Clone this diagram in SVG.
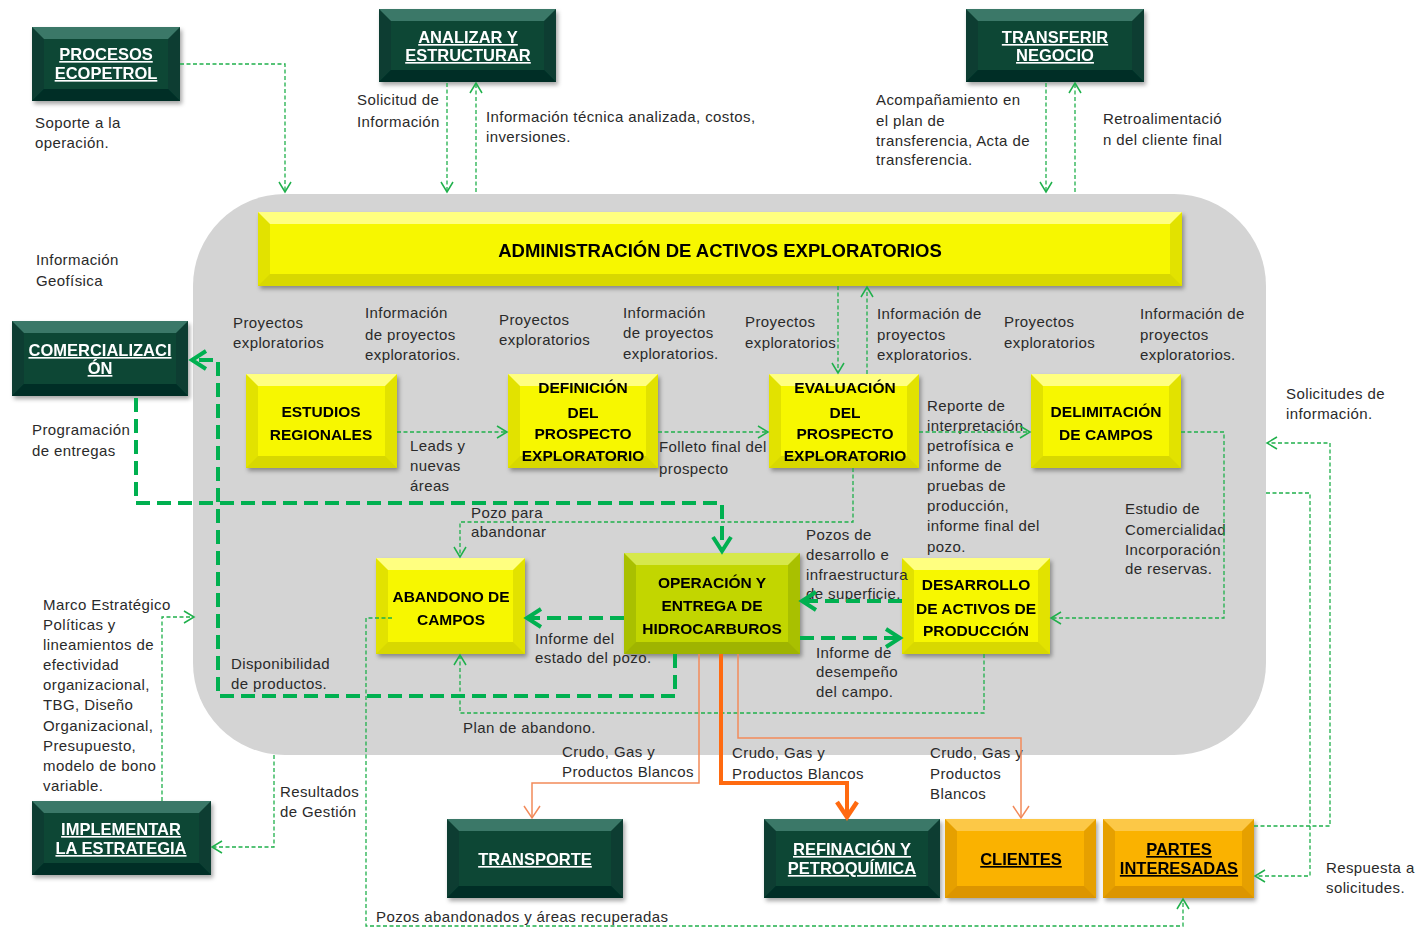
<svg xmlns="http://www.w3.org/2000/svg" width="1418" height="928" viewBox="0 0 1418 928">
<defs>
<style>
.lbl{font-family:"Liberation Sans",Arial,sans-serif;font-size:15px;fill:#2a2a2a;letter-spacing:0.4px}
.wt{font-family:"Liberation Sans",Arial,sans-serif;font-size:16.5px;font-weight:bold;fill:#ffffff;text-anchor:middle;text-decoration:underline}
.bt{font-family:"Liberation Sans",Arial,sans-serif;font-size:15.5px;font-weight:bold;fill:#000000;text-anchor:middle}
.ot{font-family:"Liberation Sans",Arial,sans-serif;font-size:16.5px;font-weight:bold;fill:#000000;text-anchor:middle;text-decoration:underline}
.dg-side{fill:#083d30}.dg-top{fill:#3b7868}.dg-bot{fill:#052f25}.dg-mid{fill:#0b4636}
.y-side{fill:#e2e200}.y-top{fill:#ffff80}.y-bot{fill:#d8d800}.y-mid{fill:#f7f700}
.g-side{fill:#a9c000}.g-top{fill:#d6e84c}.g-bot{fill:#9fb400}.g-mid{fill:#c2d600}
.o-side{fill:#e6a000}.o-top{fill:#fcc846}.o-bot{fill:#dc9500}.o-mid{fill:#fab200}
.tg{fill:none;stroke:#1fb04b;stroke-width:1.3;stroke-dasharray:4 2.5}
.kg{fill:none;stroke:#00b050;stroke-width:4;stroke-dasharray:14 7}
.to{fill:none;stroke:#f28a5a;stroke-width:1.5}
.ko{fill:none;stroke:#ff6a10;stroke-width:4}
</style>
<filter id="sh" x="-10%" y="-10%" width="125%" height="130%">
<feDropShadow dx="2" dy="3" stdDeviation="2" flood-color="#000" flood-opacity="0.35"/>
</filter>
<marker id="atg" markerUnits="userSpaceOnUse" markerWidth="16" markerHeight="16" viewBox="0 0 16 16" refX="13" refY="8" orient="auto">
<path d="M3,2 L13,8 L3,14" fill="none" stroke="#1fb04b" stroke-width="1.5"/>
</marker>
<marker id="akg" markerUnits="userSpaceOnUse" markerWidth="24" markerHeight="24" viewBox="0 0 24 24" refX="20" refY="12" orient="auto">
<path d="M6,3 L20,12 L6,21" fill="none" stroke="#00b050" stroke-width="4"/>
</marker>
<marker id="ato" markerUnits="userSpaceOnUse" markerWidth="20" markerHeight="20" viewBox="0 0 20 20" refX="17" refY="10" orient="auto">
<path d="M5,2 L17,10 L5,18" fill="none" stroke="#f28a5a" stroke-width="1.5"/>
</marker>
<marker id="ako" markerUnits="userSpaceOnUse" markerWidth="26" markerHeight="26" viewBox="0 0 26 26" refX="22" refY="13" orient="auto">
<path d="M7,3 L22,13 L7,23" fill="none" stroke="#ff6a10" stroke-width="4.5"/>
</marker>
</defs>

<rect x="193" y="194" width="1073" height="561" rx="92" ry="92" fill="#d4d4d4"/>

<g id="procesos" filter="url(#sh)">
<rect class="dg-side" x="32" y="27" width="148" height="74"/>
<polygon class="dg-top" points="32,27 180,27 168,39 44,39"/>
<polygon class="dg-bot" points="32,101 180,101 168,89 44,89"/>
<rect class="dg-mid" x="44" y="39" width="124" height="50"/>
<text class="wt" x="106" y="60">PROCESOS</text>
<text class="wt" x="106" y="79">ECOPETROL</text>
</g>
<g id="analizar" filter="url(#sh)">
<rect class="dg-side" x="379" y="9" width="177" height="73"/>
<polygon class="dg-top" points="379,9 556,9 544,21 391,21"/>
<polygon class="dg-bot" points="379,82 556,82 544,70 391,70"/>
<rect class="dg-mid" x="391" y="21" width="153" height="49"/>
<text class="wt" x="468" y="43">ANALIZAR Y</text>
<text class="wt" x="468" y="61">ESTRUCTURAR</text>
</g>
<g id="transferir" filter="url(#sh)">
<rect class="dg-side" x="966" y="9" width="178" height="73"/>
<polygon class="dg-top" points="966,9 1144,9 1132,21 978,21"/>
<polygon class="dg-bot" points="966,82 1144,82 1132,70 978,70"/>
<rect class="dg-mid" x="978" y="21" width="154" height="49"/>
<text class="wt" x="1055" y="43">TRANSFERIR</text>
<text class="wt" x="1055" y="61">NEGOCIO</text>
</g>
<g id="comercializacion" filter="url(#sh)">
<rect class="dg-side" x="12" y="321" width="176" height="75"/>
<polygon class="dg-top" points="12,321 188,321 176,333 24,333"/>
<polygon class="dg-bot" points="12,396 188,396 176,384 24,384"/>
<rect class="dg-mid" x="24" y="333" width="152" height="51"/>
<text class="wt" x="100" y="356">COMERCIALIZACI</text>
<text class="wt" x="100" y="374">ÓN</text>
</g>
<g id="implementar" filter="url(#sh)">
<rect class="dg-side" x="32" y="801" width="179" height="74"/>
<polygon class="dg-top" points="32,801 211,801 199,813 44,813"/>
<polygon class="dg-bot" points="32,875 211,875 199,863 44,863"/>
<rect class="dg-mid" x="44" y="813" width="155" height="50"/>
<text class="wt" x="121" y="835">IMPLEMENTAR</text>
<text class="wt" x="121" y="854">LA ESTRATEGIA</text>
</g>
<g id="transporte" filter="url(#sh)">
<rect class="dg-side" x="447" y="819" width="176" height="79"/>
<polygon class="dg-top" points="447,819 623,819 611,831 459,831"/>
<polygon class="dg-bot" points="447,898 623,898 611,886 459,886"/>
<rect class="dg-mid" x="459" y="831" width="152" height="55"/>
<text class="wt" x="535" y="865">TRANSPORTE</text>
</g>
<g id="refinacion" filter="url(#sh)">
<rect class="dg-side" x="764" y="819" width="176" height="79"/>
<polygon class="dg-top" points="764,819 940,819 928,831 776,831"/>
<polygon class="dg-bot" points="764,898 940,898 928,886 776,886"/>
<rect class="dg-mid" x="776" y="831" width="152" height="55"/>
<text class="wt" x="852" y="855">REFINACIÓN Y</text>
<text class="wt" x="852" y="874">PETROQUÍMICA</text>
</g>
<g id="clientes" filter="url(#sh)">
<rect class="o-side" x="945" y="819" width="151" height="79"/>
<polygon class="o-top" points="945,819 1096,819 1084,831 957,831"/>
<polygon class="o-bot" points="945,898 1096,898 1084,886 957,886"/>
<rect class="o-mid" x="957" y="831" width="127" height="55"/>
<text class="ot" x="1021" y="865">CLIENTES</text>
</g>
<g id="partes" filter="url(#sh)">
<rect class="o-side" x="1103" y="819" width="151" height="79"/>
<polygon class="o-top" points="1103,819 1254,819 1242,831 1115,831"/>
<polygon class="o-bot" points="1103,898 1254,898 1242,886 1115,886"/>
<rect class="o-mid" x="1115" y="831" width="127" height="55"/>
<text class="ot" x="1179" y="855">PARTES</text>
<text class="ot" x="1179" y="874">INTERESADAS</text>
</g>
<g id="admin" filter="url(#sh)">
<rect class="y-side" x="258" y="212" width="924" height="74"/>
<polygon class="y-top" points="258,212 1182,212 1170,224 270,224"/>
<polygon class="y-bot" points="258,286 1182,286 1170,274 270,274"/>
<rect class="y-mid" x="270" y="224" width="900" height="50"/>
<text class="bt" x="720" y="257" style="font-size:18.5px">ADMINISTRACIÓN DE ACTIVOS EXPLORATORIOS</text>
</g>
<g id="estudios" filter="url(#sh)">
<rect class="y-side" x="246" y="374" width="151" height="94"/>
<polygon class="y-top" points="246,374 397,374 385,386 258,386"/>
<polygon class="y-bot" points="246,468 397,468 385,456 258,456"/>
<rect class="y-mid" x="258" y="386" width="127" height="70"/>
<text class="bt" x="321" y="417">ESTUDIOS</text>
<text class="bt" x="321" y="440">REGIONALES</text>
</g>
<g id="definicion" filter="url(#sh)">
<rect class="y-side" x="508" y="374" width="150" height="94"/>
<polygon class="y-top" points="508,374 658,374 646,386 520,386"/>
<polygon class="y-bot" points="508,468 658,468 646,456 520,456"/>
<rect class="y-mid" x="520" y="386" width="126" height="70"/>
<text class="bt" x="583" y="393">DEFINICIÓN</text>
<text class="bt" x="583" y="418">DEL</text>
<text class="bt" x="583" y="439">PROSPECTO</text>
<text class="bt" x="583" y="461">EXPLORATORIO</text>
</g>
<g id="evaluacion" filter="url(#sh)">
<rect class="y-side" x="769" y="374" width="150" height="94"/>
<polygon class="y-top" points="769,374 919,374 907,386 781,386"/>
<polygon class="y-bot" points="769,468 919,468 907,456 781,456"/>
<rect class="y-mid" x="781" y="386" width="126" height="70"/>
<text class="bt" x="845" y="393">EVALUACIÓN</text>
<text class="bt" x="845" y="418">DEL</text>
<text class="bt" x="845" y="439">PROSPECTO</text>
<text class="bt" x="845" y="461">EXPLORATORIO</text>
</g>
<g id="delimitacion" filter="url(#sh)">
<rect class="y-side" x="1031" y="374" width="150" height="94"/>
<polygon class="y-top" points="1031,374 1181,374 1169,386 1043,386"/>
<polygon class="y-bot" points="1031,468 1181,468 1169,456 1043,456"/>
<rect class="y-mid" x="1043" y="386" width="126" height="70"/>
<text class="bt" x="1106" y="417">DELIMITACIÓN</text>
<text class="bt" x="1106" y="440">DE CAMPOS</text>
</g>
<g id="abandono" filter="url(#sh)">
<rect class="y-side" x="376" y="558" width="149" height="96"/>
<polygon class="y-top" points="376,558 525,558 513,570 388,570"/>
<polygon class="y-bot" points="376,654 525,654 513,642 388,642"/>
<rect class="y-mid" x="388" y="570" width="125" height="72"/>
<text class="bt" x="451" y="602">ABANDONO DE</text>
<text class="bt" x="451" y="625">CAMPOS</text>
</g>
<g id="operacion" filter="url(#sh)">
<rect class="g-side" x="624" y="553" width="176" height="101"/>
<polygon class="g-top" points="624,553 800,553 788,565 636,565"/>
<polygon class="g-bot" points="624,654 800,654 788,642 636,642"/>
<rect class="g-mid" x="636" y="565" width="152" height="77"/>
<text class="bt" x="712" y="588">OPERACIÓN Y</text>
<text class="bt" x="712" y="611">ENTREGA DE</text>
<text class="bt" x="712" y="634">HIDROCARBUROS</text>
</g>
<g id="desarrollo" filter="url(#sh)">
<rect class="y-side" x="902" y="558" width="148" height="96"/>
<polygon class="y-top" points="902,558 1050,558 1038,570 914,570"/>
<polygon class="y-bot" points="902,654 1050,654 1038,642 914,642"/>
<rect class="y-mid" x="914" y="570" width="124" height="72"/>
<text class="bt" x="976" y="590">DESARROLLO</text>
<text class="bt" x="976" y="614">DE ACTIVOS DE</text>
<text class="bt" x="976" y="636">PRODUCCIÓN</text>
</g>

<g id="labels" class="lbl">
<text class="lbl" x="35" y="128">Soporte a la</text>
<text class="lbl" x="35" y="148">operación.</text>
<text class="lbl" x="357" y="105">Solicitud de</text>
<text class="lbl" x="357" y="127">Información</text>
<text class="lbl" x="486" y="122">Información técnica analizada, costos,</text>
<text class="lbl" x="486" y="142">inversiones.</text>
<text class="lbl" x="876" y="105">Acompañamiento en</text>
<text class="lbl" x="876" y="126">el plan de</text>
<text class="lbl" x="876" y="146">transferencia, Acta de</text>
<text class="lbl" x="876" y="165">transferencia.</text>
<text class="lbl" x="1103" y="124">Retroalimentació</text>
<text class="lbl" x="1103" y="145">n del cliente final</text>
<text class="lbl" x="36" y="265">Información</text>
<text class="lbl" x="36" y="286">Geofísica</text>
<text class="lbl" x="233" y="328">Proyectos</text>
<text class="lbl" x="233" y="348">exploratorios</text>
<text class="lbl" x="365" y="318">Información</text>
<text class="lbl" x="365" y="340">de proyectos</text>
<text class="lbl" x="365" y="360">exploratorios.</text>
<text class="lbl" x="499" y="325">Proyectos</text>
<text class="lbl" x="499" y="345">exploratorios</text>
<text class="lbl" x="623" y="318">Información</text>
<text class="lbl" x="623" y="338">de proyectos</text>
<text class="lbl" x="623" y="359">exploratorios.</text>
<text class="lbl" x="745" y="327">Proyectos</text>
<text class="lbl" x="745" y="348">exploratorios</text>
<text class="lbl" x="877" y="319">Información de</text>
<text class="lbl" x="877" y="340">proyectos</text>
<text class="lbl" x="877" y="360">exploratorios.</text>
<text class="lbl" x="1004" y="327">Proyectos</text>
<text class="lbl" x="1004" y="348">exploratorios</text>
<text class="lbl" x="1140" y="319">Información de</text>
<text class="lbl" x="1140" y="340">proyectos</text>
<text class="lbl" x="1140" y="360">exploratorios.</text>
<text class="lbl" x="32" y="435">Programación</text>
<text class="lbl" x="32" y="456">de entregas</text>
<text class="lbl" x="410" y="451">Leads y</text>
<text class="lbl" x="410" y="471">nuevas</text>
<text class="lbl" x="410" y="491">áreas</text>
<text class="lbl" x="659" y="452">Folleto final del</text>
<text class="lbl" x="659" y="474">prospecto</text>
<text class="lbl" x="927" y="411">Reporte de</text>
<text class="lbl" x="927" y="431">interpretación</text>
<text class="lbl" x="927" y="451">petrofísica e</text>
<text class="lbl" x="927" y="471">informe de</text>
<text class="lbl" x="927" y="491">pruebas de</text>
<text class="lbl" x="927" y="511">producción,</text>
<text class="lbl" x="927" y="531">informe final del</text>
<text class="lbl" x="927" y="552">pozo.</text>
<text class="lbl" x="1286" y="399">Solicitudes de</text>
<text class="lbl" x="1286" y="419">información.</text>
<text class="lbl" x="1125" y="514">Estudio de</text>
<text class="lbl" x="1125" y="535">Comercialidad</text>
<text class="lbl" x="1125" y="555">Incorporación</text>
<text class="lbl" x="1125" y="574">de reservas.</text>
<text class="lbl" x="471" y="518">Pozo para</text>
<text class="lbl" x="471" y="537">abandonar</text>
<text class="lbl" x="806" y="540">Pozos de</text>
<text class="lbl" x="806" y="560">desarrollo e</text>
<text class="lbl" x="806" y="580">infraestructura</text>
<text class="lbl" x="806" y="599">de superficie.</text>
<text class="lbl" x="43" y="610">Marco Estratégico</text>
<text class="lbl" x="43" y="630">Políticas y</text>
<text class="lbl" x="43" y="650">lineamientos de</text>
<text class="lbl" x="43" y="670">efectividad</text>
<text class="lbl" x="43" y="690">organizacional,</text>
<text class="lbl" x="43" y="710">TBG, Diseño</text>
<text class="lbl" x="43" y="731">Organizacional,</text>
<text class="lbl" x="43" y="751">Presupuesto,</text>
<text class="lbl" x="43" y="771">modelo de bono</text>
<text class="lbl" x="43" y="791">variable.</text>
<text class="lbl" x="535" y="644">Informe del</text>
<text class="lbl" x="535" y="663">estado del pozo.</text>
<text class="lbl" x="816" y="658">Informe de</text>
<text class="lbl" x="816" y="677">desempeño</text>
<text class="lbl" x="816" y="697">del campo.</text>
<text class="lbl" x="231" y="669">Disponibilidad</text>
<text class="lbl" x="231" y="689">de productos.</text>
<text class="lbl" x="463" y="733">Plan de abandono.</text>
<text class="lbl" x="562" y="757">Crudo, Gas y</text>
<text class="lbl" x="562" y="777">Productos Blancos</text>
<text class="lbl" x="732" y="758">Crudo, Gas y</text>
<text class="lbl" x="732" y="779">Productos Blancos</text>
<text class="lbl" x="930" y="758">Crudo, Gas y</text>
<text class="lbl" x="930" y="779">Productos</text>
<text class="lbl" x="930" y="799">Blancos</text>
<text class="lbl" x="280" y="797">Resultados</text>
<text class="lbl" x="280" y="817">de Gestión</text>
<text class="lbl" x="1326" y="873">Respuesta a</text>
<text class="lbl" x="1326" y="893">solicitudes.</text>
<text class="lbl" x="376" y="922">Pozos abandonados y áreas recuperadas</text>
</g>

<g id="connectors">
<path class="tg" marker-end="url(#atg)" d="M180,64 H285 V192"/>
<path class="tg" marker-end="url(#atg)" d="M447,83 V192"/>
<path class="tg" marker-end="url(#atg)" d="M476,192 V83"/>
<path class="tg" marker-end="url(#atg)" d="M1046,83 V192"/>
<path class="tg" marker-end="url(#atg)" d="M1075,192 V83"/>
<path class="tg" marker-end="url(#atg)" d="M838,286 V373"/>
<path class="tg" marker-end="url(#atg)" d="M867,374 V287"/>
<path class="tg" marker-end="url(#atg)" d="M397,432 H507"/>
<path class="tg" marker-end="url(#atg)" d="M658,432 H768"/>
<path class="tg" marker-end="url(#atg)" d="M919,432 H1030"/>
<path class="tg" marker-end="url(#atg)" d="M1181,432 H1224 V618 H1051"/>
<path class="tg" marker-end="url(#atg)" d="M1254,826 H1330 V443 H1267"/>
<path class="tg" marker-end="url(#atg)" d="M1266,493 H1310 V876 H1255"/>
<path class="tg" marker-end="url(#atg)" d="M853,468 V522 H460 V557"/>
<path class="tg" marker-end="url(#atg)" d="M392,618 H366 V926 H1183 V899"/>
<path class="tg" marker-end="url(#atg)" d="M984,654 V713 H460 V655"/>
<path class="tg" marker-end="url(#atg)" d="M162,801 V617 H194"/>
<path class="tg" marker-end="url(#atg)" d="M274,755 V847 H212"/>
<path class="kg" marker-end="url(#akg)" d="M136,398 V503 H722 V551"/>
<path class="kg" marker-end="url(#akg)" d="M675,654 V696 H218 V360 H192"/>
<path class="kg" marker-end="url(#akg)" d="M624,618 H527"/>
<path class="kg" marker-end="url(#akg)" d="M902,601 H802"/>
<path class="kg" marker-end="url(#akg)" d="M800,638 H900"/>
<path class="to" marker-end="url(#ato)" d="M699,654 V783 H532 V818"/>
<path class="ko" marker-end="url(#ako)" d="M721,654 V783 H847 V817"/>
<path class="to" marker-end="url(#ato)" d="M738,654 V738 H1021 V818"/>
</g>
</svg>
